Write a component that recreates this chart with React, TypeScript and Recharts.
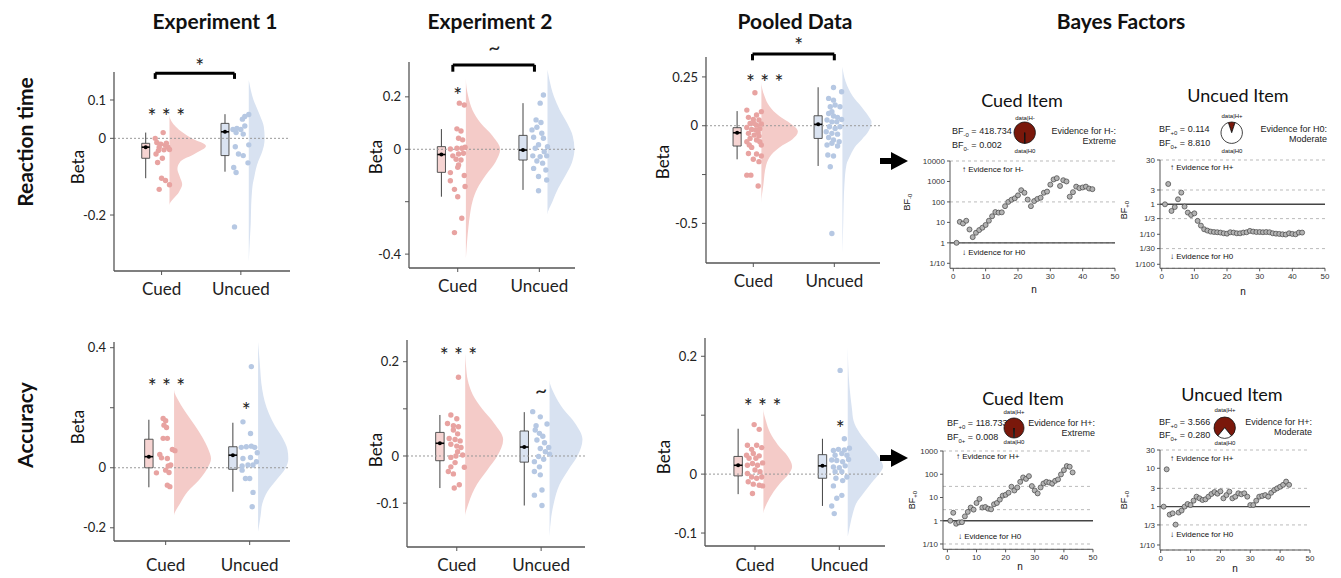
import React from 'react';
import {
  ComposedChart, Area, Scatter, XAxis, YAxis, ReferenceLine, ReferenceArea, ReferenceDot,
  CartesianGrid, PieChart, Pie, Cell,
} from 'recharts';

type Pt = [number, number];

const CATEGORIES = ['Cued', 'Uncued'];

// ---- raincloud data: [jitter, beta] per participant ----
const exp1RtCued: Pt[] = [[-0.08, 0], [0.02, 0.015], [-0.06, -0.011], [-0.01, -0.015], [0.05, -0.018], [0.08, -0.023], [0.1, -0.029], [-0.03, -0.023], [0.03, -0.03], [-0.07, -0.041], [-0.05, -0.063], [0.01, -0.052], [0, -0.104], [0.05, -0.11], [0.1, -0.121], [-0.03, -0.133], [0.06, -0.013], [-0.04, -0.032]];
const exp1RtUncued: Pt[] = [[0.05, 0.057], [0.1, 0.062], [0.02, 0.05], [-0.1, 0.023], [-0.05, 0.026], [0, 0.023], [0.05, 0.032], [-0.06, 0.015], [0.03, 0.011], [0.1, -0.017], [-0.07, -0.022], [-0.03, -0.041], [0.03, -0.045], [0.09, -0.064], [-0.09, -0.076], [-0.06, -0.089], [-0.08, -0.231]];
const exp2RtCued: Pt[] = [[0.02, 0.176], [0.08, 0.169], [-0.01, 0.078], [0.04, 0.07], [0.01, 0.042], [0.06, 0.036], [-0.09, 0.001], [-0.01, 0.004], [0.05, 0.004], [0.09, 0.008], [-0.06, -0.025], [0.01, -0.018], [0.07, -0.015], [-0.02, -0.038], [0.04, -0.041], [0.01, -0.06], [0, -0.069], [-0.09, -0.089], [0.08, -0.1], [-0.09, -0.12], [-0.04, -0.153], [0.09, -0.142], [0, -0.181], [0.05, -0.263], [-0.04, -0.318]];
const exp2RtUncued: Pt[] = [[0.05, 0.207], [0.01, 0.176], [-0.04, 0.112], [0.02, 0.102], [-0.09, 0.074], [-0.03, 0.084], [0.03, 0.061], [-0.07, 0.046], [0.05, 0.042], [0.1, 0.01], [-0.01, 0.017], [-0.05, 0.004], [0.06, -0.009], [-0.08, -0.025], [0.01, -0.028], [0.09, -0.025], [-0.03, -0.045], [0.04, -0.053], [-0.07, -0.073], [0.08, -0.079], [-0.01, -0.104], [0.09, -0.117], [-0.01, -0.158]];
const poolRtCued: Pt[] = [[0.02, 0.169], [-0.08, 0.08], [0.1, 0.072], [0.04, 0.055], [-0.06, 0.043], [0, 0.032], [0.07, 0.029], [-0.04, 0.012], [0.04, 0.003], [0.1, 0.009], [0.01, 0.012], [-0.08, -0.009], [-0.02, -0.019], [0.03, -0.022], [0.08, -0.015], [-0.06, -0.039], [0.01, -0.048], [0.06, -0.036], [0.07, -0.053], [-0.04, -0.065], [0.04, -0.073], [-0.08, -0.082], [0.08, -0.082], [-0.05, -0.099], [0.1, -0.099], [-0.02, -0.111], [-0.06, -0.142], [0.04, -0.145], [0.1, -0.155], [0, -0.172], [0.07, -0.184], [-0.08, -0.253], [-0.03, -0.253], [0.06, -0.309]];
const poolRtUncued: Pt[] = [[-0.01, 0.196], [0.09, 0.174], [-0.07, 0.14], [-0.01, 0.131], [-0.05, 0.097], [0.01, 0.106], [0.07, 0.097], [-0.03, 0.072], [-0.07, 0.063], [-0.01, 0.05], [0.04, 0.043], [-0.09, 0.029], [-0.03, 0.02], [0.03, 0.02], [0.09, 0.032], [-0.06, -0.005], [0.01, -0.014], [0.07, -0.005], [-0.1, -0.031], [-0.03, -0.039], [0.04, -0.043], [-0.07, -0.06], [-0.01, -0.073], [0.06, -0.082], [-0.09, -0.099], [-0.03, -0.09], [0.04, -0.104], [-0.08, -0.15], [-0.01, -0.155], [-0.05, -0.21], [-0.03, -0.552]];
const exp1AccCued: Pt[] = [[-0.03, 0.164], [0, 0.157], [-0.02, 0.142], [0.01, 0.134], [-0.03, 0.098], [0.02, 0.098], [0.08, 0.061], [0.11, 0.057], [-0.07, 0.044], [-0.05, 0.033], [0.02, 0.031], [0.06, 0.009], [0.03, 0.006], [-0.11, -0.017], [0, -0.008], [0.04, -0.016], [0.02, -0.058], [0.05, -0.063]];
const exp1AccUncued: Pt[] = [[0.02, 0.337], [-0.08, 0.153], [0.01, 0.114], [-0.1, 0.068], [-0.04, 0.07], [0.02, 0.072], [0.06, 0.068], [0.01, 0.034], [0.08, 0.02], [0.09, 0.05], [-0.08, 0.031], [-0.09, 0.006], [-0.02, 0.009], [0.04, 0.009], [-0.09, -0.008], [-0.05, -0.036], [0, -0.036], [0.04, -0.082], [0.03, -0.13]];
const exp2AccCued: Pt[] = [[0.02, 0.167], [-0.07, 0.087], [0, 0.079], [-0.11, 0.069], [-0.04, 0.064], [0.02, 0.062], [-0.04, 0.055], [0.01, 0.047], [-0.09, 0.037], [-0.02, 0.035], [0.04, 0.032], [-0.07, 0.025], [0, 0.021], [0.05, 0.018], [0.01, 0.009], [0.07, 0.002], [-0.01, 0], [-0.07, -0.003], [0.09, -0.024], [-0.02, -0.014], [-0.07, -0.023], [-0.1, -0.033], [-0.04, -0.038], [0.03, -0.061], [-0.03, -0.068]];
const exp2AccUncued: Pt[] = [[-0.1, 0.094], [-0.01, 0.083], [-0.06, 0.064], [0.07, 0.068], [-0.07, 0.055], [-0.02, 0.048], [0.02, 0.042], [-0.05, 0.034], [0.04, 0.028], [0.09, 0.018], [-0.01, 0.016], [0.05, 0.009], [0.1, 0.004], [-0.03, -0.001], [0.03, -0.007], [-0.08, -0.012], [-0.02, -0.023], [-0.08, -0.033], [-0.01, -0.04], [0.01, -0.072], [-0.08, -0.083], [0.01, -0.105]];
const poolAccCued: Pt[] = [[-0.01, 0.084], [0.05, 0.076], [-0.09, 0.049], [0.02, 0.049], [-0.04, 0.042], [0.08, 0.045], [-0.1, 0.032], [-0.02, 0.035], [0.05, 0.031], [-0.07, 0.027], [0.01, 0.027], [-0.09, 0.015], [-0.03, 0.018], [0.03, 0.015], [0.09, 0.019], [0, 0.007], [0.06, 0.004], [-0.09, 0.001], [-0.04, -0.005], [0.02, -0.007], [0.08, -0.005], [-0.08, -0.013], [-0.02, -0.017], [0.05, -0.019], [0.09, -0.02], [-0.03, -0.033]];
const poolAccUncued: Pt[] = [[0.01, 0.176], [0.06, 0.06], [-0.07, 0.04], [-0.01, 0.042], [0.06, 0.041], [0.12, 0.044], [-0.05, 0.032], [0.03, 0.035], [0.09, 0.032], [-0.09, 0.024], [-0.03, 0.023], [0.04, 0.021], [0.11, 0.025], [-0.07, 0.012], [0, 0.011], [0.07, 0.014], [-0.05, 0.004], [0.03, 0.004], [0.09, -0.005], [-0.04, -0.007], [0.04, -0.011], [-0.07, -0.02], [0.03, -0.036], [-0.03, -0.041], [-0.09, -0.054], [-0.06, -0.067]];

// ---- box stats: [lower whisker, q1, centre, q3, upper whisker] ----
const exp1RtBoxCued = [-0.104, -0.052, -0.023, -0.013, 0.015];
const exp1RtBoxUncued = [-0.087, -0.045, 0.017, 0.039, 0.063];
const exp2RtBoxCued = [-0.181, -0.088, -0.02, 0.01, 0.077];
const exp2RtBoxUncued = [-0.155, -0.041, -0.003, 0.053, 0.176];
const poolRtBoxCued = [-0.172, -0.104, -0.036, -0.01, 0.075];
const poolRtBoxUncued = [-0.206, -0.065, 0.007, 0.051, 0.197];
const exp1AccBoxCued = [-0.065, 0.0, 0.037, 0.095, 0.16];
const exp1AccBoxUncued = [-0.08, -0.005, 0.042, 0.07, 0.15];
const exp2AccBoxCued = [-0.068, -0.01, 0.027, 0.05, 0.087];
const exp2AccBoxUncued = [-0.105, -0.013, 0.019, 0.053, 0.093];
const poolAccBoxCued = [-0.034, -0.003, 0.015, 0.03, 0.077];
const poolAccBoxUncued = [-0.054, -0.007, 0.014, 0.033, 0.06];

// ---- half-violin outlines: beta levels and density widths ----
const exp1RtViolinY = [0.152, 0.1, 0.06, 0.03, 0, -0.02, -0.04, -0.06, -0.08, -0.1, -0.12, -0.14, -0.175, -0.22, -0.27, -0.322];
const exp1RtViolinCued = [0, 0, 0, 0.08, 0.28, 0.46, 0.32, 0.14, 0.1, 0.13, 0.16, 0.12, 0, 0, 0, 0];
const exp1RtViolinUncued = [0, 0.06, 0.14, 0.19, 0.2, 0.19, 0.16, 0.12, 0.09, 0.07, 0.05, 0.04, 0.03, 0.025, 0.012, 0];
const exp2RtViolinY = [0.303, 0.27, 0.2, 0.15, 0.1, 0.05, 0, -0.05, -0.1, -0.15, -0.2, -0.25, -0.3, -0.35, -0.416];
const exp2RtViolinCued = [0, 0, 0.03, 0.08, 0.18, 0.33, 0.42, 0.36, 0.24, 0.14, 0.08, 0.05, 0.03, 0.015, 0];
const exp2RtViolinUncued = [0, 0.02, 0.08, 0.15, 0.24, 0.31, 0.33, 0.3, 0.22, 0.13, 0.06, 0, 0, 0, 0];
const poolRtViolinY = [0.302, 0.225, 0.15, 0.1, 0.05, 0.02, -0.03, -0.07, -0.1, -0.15, -0.2, -0.3, -0.398, -0.5, -0.654];
const poolRtViolinCued = [0, 0, 0.04, 0.1, 0.22, 0.33, 0.45, 0.38, 0.26, 0.12, 0.06, 0.025, 0, 0, 0];
const poolRtViolinUncued = [0, 0.04, 0.13, 0.23, 0.32, 0.36, 0.32, 0.24, 0.17, 0.1, 0.05, 0.025, 0.015, 0.01, 0];
const exp1AccViolinY = [0.42, 0.35, 0.26, 0.22, 0.18, 0.14, 0.1, 0.06, 0.03, 0, -0.04, -0.08, -0.12, -0.16, -0.213];
const exp1AccViolinCued = [0, 0, 0, 0.06, 0.15, 0.25, 0.34, 0.41, 0.44, 0.4, 0.3, 0.16, 0.07, 0, 0];
const exp1AccViolinUncued = [0, 0.02, 0.05, 0.08, 0.13, 0.2, 0.29, 0.35, 0.36, 0.33, 0.22, 0.11, 0.05, 0.03, 0];
const exp2AccViolinY = [0.218, 0.19, 0.161, 0.13, 0.1, 0.07, 0.035, 0, -0.03, -0.06, -0.1, -0.129, -0.171];
const exp2AccViolinCued = [0, 0.01, 0.03, 0.09, 0.2, 0.34, 0.45, 0.38, 0.26, 0.14, 0.04, 0, 0];
const exp2AccViolinUncued = [0, 0, 0, 0.06, 0.16, 0.3, 0.39, 0.33, 0.22, 0.12, 0.05, 0.02, 0];
const poolAccViolinY = [0.216, 0.15, 0.111, 0.09, 0.07, 0.05, 0.03, 0.013, 0, -0.015, -0.03, -0.05, -0.067, -0.085, -0.106];
const poolAccViolinCued = [0, 0, 0, 0.03, 0.08, 0.17, 0.29, 0.34, 0.3, 0.2, 0.12, 0.04, 0, 0, 0];
const poolAccViolinUncued = [0, 0.02, 0.05, 0.07, 0.14, 0.25, 0.36, 0.42, 0.37, 0.28, 0.2, 0.1, 0.06, 0.03, 0];

// ---- sequential Bayes factors, n = 1..43 ----
const bfCuedRt = [1, 10.6, 8.8, 12, 4.5, 1.9, 3.1, 4.2, 5.5, 7.5, 12, 20, 32, 30, 31, 62, 100, 128, 150, 210, 375, 280, 130, 62, 110, 140, 160, 280, 320, 700, 1250, 1450, 600, 1150, 1000, 180, 300, 560, 470, 510, 560, 450, 420];
const bfUncuedRt = [1, 4.76, 0.6, 0.81, 1.47, 2.45, 0.84, 0.53, 0.44, 0.5, 0.28, 0.195, 0.147, 0.133, 0.123, 0.119, 0.117, 0.114, 0.108, 0.105, 0.117, 0.114, 0.108, 0.108, 0.114, 0.117, 0.13, 0.123, 0.119, 0.119, 0.117, 0.119, 0.117, 0.108, 0.105, 0.103, 0.1, 0.098, 0.108, 0.103, 0.1, 0.114, 0.114];
const bfCuedAcc = [1, 2.2, 0.74, 0.85, 0.87, 1.54, 2.4, 3.7, 3.0, 5.8, 8.7, 3.7, 3.9, 3.3, 3.1, 5.1, 5.8, 8.1, 12, 13, 16, 29, 20, 27, 47, 73, 63, 83, 31, 20, 15, 27, 40, 47, 44, 40, 52, 60, 98, 150, 225, 210, 120];
const bfUncuedAcc = [1, 9.4, 0.62, 0.67, 0.34, 0.7, 0.79, 1.0, 1.17, 1.1, 1.43, 1.82, 1.65, 1.49, 1.55, 1.82, 2.14, 2.4, 2.18, 2.5, 1.65, 2.0, 2.46, 1.65, 1.82, 2.23, 2.1, 2.23, 1.82, 1.1, 1.1, 1.43, 1.82, 1.9, 2.0, 1.82, 2.3, 2.7, 3.0, 3.3, 3.7, 4.5, 3.7];

const bfFinal = ['418.734', '0.114', '118.733', '3.566'];
const bfFinalInv = ['0.002', '8.810', '0.008', '0.280'];

const PINK_DOT = '#e8a3a1';
const PINK_VIOLIN = '#f4cbc8';
const PINK_BOX = '#f6d4d2';
const BLUE_DOT = '#b6c8e3';
const BLUE_VIOLIN = '#d8e2f1';
const BLUE_BOX = '#dae3f1';
const RED = '#7a180b';

const SANS = 'Lato, "Open Sans", sans-serif';
const ARIAL = '"Liberation Sans", Arial, sans-serif';

const YW = 50;
const MT = 50;
const MR = 12;
const XH = 44;
const VOFF = 0.1;
const BOXC = -0.2;
const BOXH = 0.05;

const dot = (fill: string, r: number) => (p: any) => <circle cx={p.cx} cy={p.cy} r={r} fill={fill} />;

function boxPlot(s: number[], c: number, fill: string, k: string) {
  const x = c + BOXC;
  return [
    <ReferenceLine key={k + 'w1'} segment={[{ x, y: s[0] }, { x, y: s[1] }]} stroke="#444" strokeWidth={1} ifOverflow="visible" />,
    <ReferenceLine key={k + 'w2'} segment={[{ x, y: s[3] }, { x, y: s[4] }]} stroke="#444" strokeWidth={1} ifOverflow="visible" />,
    <ReferenceArea key={k + 'b'} x1={x - BOXH} x2={x + BOXH} y1={s[1]} y2={s[3]} fill={fill} fillOpacity={1} stroke="#555" strokeWidth={1} ifOverflow="visible" />,
    <ReferenceLine key={k + 'm'} segment={[{ x: x - BOXH, y: s[2] }, { x: x + BOXH, y: s[2] }]} stroke="#000" strokeWidth={1.6} ifOverflow="visible" />,
    <ReferenceDot key={k + 'd'} x={x} y={s[2]} r={2} fill="#000" stroke="none" ifOverflow="visible" />,
  ];
}

function RainPanel({ cfg }: { cfg: any }) {
  const { l, t, r, b, xDomain, yDomain, ticks, hidden, cued, uncued, boxC, boxU, vy, vc, vu, marks, bracket, gap } = cfg;
  const table = vy.map((y: number, i: number) => ({ y, cued: 1 + VOFF + vc[i], uncued: 2 + VOFF + vu[i] }));
  const W = YW + (r - l) + MR;
  const H = MT + (b - t) + XH;
  const pts = (arr: Pt[], c: number) => arr.map(([j, v]) => ({ x: c + j, y: v }));
  return (
    <div style={{ position: 'absolute', left: l - YW, top: t - MT }}>
      <ComposedChart layout="vertical" width={W} height={H} data={table} margin={{ top: MT, right: MR, bottom: 0, left: 0 }}>
        <XAxis
          type="number" dataKey="x" domain={xDomain} allowDataOverflow ticks={[1, 2]}
          tickFormatter={(v: number) => CATEGORIES[v - 1]} height={XH} tickSize={4} tickMargin={gap}
          axisLine={{ stroke: '#555', strokeWidth: 1.3 }} tickLine={{ stroke: '#555' }}
          tick={{ fontSize: 17, fill: '#222', fontFamily: SANS }}
        />
        <YAxis
          type="number" dataKey="y" domain={yDomain} allowDataOverflow reversed ticks={ticks}
          tickFormatter={(v: number) => (hidden.includes(v) ? '' : String(v))} width={YW} tickSize={4} tickMargin={4}
          axisLine={{ stroke: '#555', strokeWidth: 1.3 }} tickLine={{ stroke: '#555' }}
          tick={{ fontSize: 13, fill: '#222', fontFamily: SANS }}
        />
        <ReferenceLine y={0} stroke="#999" strokeDasharray="2 2" strokeWidth={1} />
        <Area dataKey="cued" baseValue={1 + VOFF} type="monotone" fill={PINK_VIOLIN} fillOpacity={1} stroke="none" isAnimationActive={false} />
        <Area dataKey="uncued" baseValue={2 + VOFF} type="monotone" fill={BLUE_VIOLIN} fillOpacity={1} stroke="none" isAnimationActive={false} />
        <Scatter data={pts(cued, 1)} shape={dot(PINK_DOT, 2.7)} isAnimationActive={false} />
        <Scatter data={pts(uncued, 2)} shape={dot(BLUE_DOT, 2.7)} isAnimationActive={false} />
        {boxPlot(boxC, 1, PINK_BOX, 'c')}
        {boxPlot(boxU, 2, BLUE_BOX, 'u')}
        {bracket && [
          <ReferenceLine key="br" segment={[{ x: bracket.x1, y: bracket.y }, { x: bracket.x2, y: bracket.y }]} stroke="#000" strokeWidth={3} ifOverflow="visible" />,
          <ReferenceLine key="bl1" segment={[{ x: bracket.x1, y: bracket.y }, { x: bracket.x1, y: bracket.leg }]} stroke="#000" strokeWidth={3} ifOverflow="visible" />,
          <ReferenceLine key="bl2" segment={[{ x: bracket.x2, y: bracket.y }, { x: bracket.x2, y: bracket.leg }]} stroke="#000" strokeWidth={3} ifOverflow="visible" />,
        ]}
        {marks.map((m: any, i: number) => (
          <ReferenceDot
            key={'s' + i} x={m.x} y={m.y} r={1} fill="none" stroke="none" ifOverflow="visible"
            label={{ value: m.text, position: 'center', fontSize: 21, fill: '#222', fontFamily: SANS }}
          />
        ))}
      </ComposedChart>
    </div>
  );
}

const rainPanels = [
  { l: 114, t: 72, r: 290, b: 271, gap: 8, xDomain: [0.4, 2.62], yDomain: [-0.346, 0.173], ticks: [-0.2, 0, 0.1], hidden: [],
    cued: exp1RtCued, uncued: exp1RtUncued, boxC: exp1RtBoxCued, boxU: exp1RtBoxUncued,
    vy: exp1RtViolinY, vc: exp1RtViolinCued, vu: exp1RtViolinUncued,
    bracket: { x1: 0.92, x2: 1.92, y: 0.17, leg: 0.155 },
    marks: [{ x: 1.06, y: 0.058, text: '* * *' }, { x: 1.48, y: 0.188, text: '*' }] },
  { l: 409, t: 62, r: 575, b: 268, gap: 8, xDomain: [0.403, 2.437], yDomain: [-0.453, 0.333], ticks: [-0.4, -0.2, 0, 0.2], hidden: [-0.2],
    cued: exp2RtCued, uncued: exp2RtUncued, boxC: exp2RtBoxCued, boxU: exp2RtBoxUncued,
    vy: exp2RtViolinY, vc: exp2RtViolinCued, vu: exp2RtViolinUncued,
    bracket: { x1: 0.94, x2: 1.94, y: 0.322, leg: 0.296 },
    marks: [{ x: 1.0, y: 0.205, text: '*' }, { x: 1.45, y: 0.39, text: '~' }] },
  { l: 706, t: 57, r: 880, b: 263, gap: 8, xDomain: [0.416, 2.564], yDomain: [-0.703, 0.352], ticks: [-0.5, -0.25, 0, 0.25], hidden: [-0.25],
    cued: poolRtCued, uncued: poolRtUncued, boxC: poolRtBoxCued, boxU: poolRtBoxUncued,
    vy: poolRtViolinY, vc: poolRtViolinCued, vu: poolRtViolinUncued,
    bracket: { x1: 0.99, x2: 2.0, y: 0.367, leg: 0.335 },
    marks: [{ x: 1.14, y: 0.22, text: '* * *' }, { x: 1.56, y: 0.41, text: '*' }] },
  { l: 114, t: 342, r: 290, b: 541, gap: 14, xDomain: [0.385, 2.48], yDomain: [-0.244, 0.419], ticks: [-0.2, 0, 0.2, 0.4], hidden: [0.2],
    cued: exp1AccCued, uncued: exp1AccUncued, boxC: exp1AccBoxCued, boxU: exp1AccBoxUncued,
    vy: exp1AccViolinY, vc: exp1AccViolinCued, vu: exp1AccViolinUncued, bracket: null,
    marks: [{ x: 1.01, y: 0.27, text: '* * *' }, { x: 1.96, y: 0.19, text: '*' }] },
  { l: 407, t: 340, r: 585, b: 547, gap: 8, xDomain: [0.41, 2.52], yDomain: [-0.193, 0.246], ticks: [-0.1, 0, 0.1, 0.2], hidden: [0.1],
    cued: exp2AccCued, uncued: exp2AccUncued, boxC: exp2AccBoxCued, boxU: exp2AccBoxUncued,
    vy: exp2AccViolinY, vc: exp2AccViolinCued, vu: exp2AccViolinUncued, bracket: null,
    marks: [{ x: 1.02, y: 0.213, text: '* * *' }, { x: 2.0, y: 0.138, text: '~' }] },
  { l: 705, t: 338, r: 885, b: 546, gap: 9, xDomain: [0.407, 2.542], yDomain: [-0.122, 0.231], ticks: [-0.1, 0, 0.1, 0.2], hidden: [0.1],
    cued: poolAccCued, uncued: poolAccUncued, boxC: poolAccBoxCued, boxU: poolAccBoxUncued,
    vy: poolAccViolinY, vc: poolAccViolinCued, vu: poolAccViolinUncued, bracket: null,
    marks: [{ x: 1.09, y: 0.115, text: '* * *' }, { x: 2.01, y: 0.077, text: '*' }] },
];

const fmtBf = (v: number) => (v >= 1 ? String(Math.round(v)) : '1/' + Math.round(1 / v));

function BfPlot({ cfg }: { cfg: any }) {
  const { l, t, r, b, x0, yDomain, ticks, values } = cfg;
  const BYW = 34;
  const BXH = 22;
  const data = values.map((v: number, i: number) => ({ n: i + 1, bf: v }));
  return (
    <div style={{ position: 'absolute', left: l - BYW, top: t - 4 }}>
      <ComposedChart width={BYW + (r - l) + 6} height={4 + (b - t) + BXH} data={data} margin={{ top: 4, right: 6, bottom: 0, left: 0 }}>
        <CartesianGrid horizontal vertical={false} stroke="#bbb" strokeDasharray="3 3" />
        <XAxis
          type="number" dataKey="n" domain={[x0, 50]} allowDataOverflow ticks={[0, 10, 20, 30, 40, 50]}
          height={BXH} tickSize={3} tickMargin={2} axisLine={{ stroke: '#555' }} tickLine={{ stroke: '#555' }}
          tick={{ fontSize: 8, fill: '#333', fontFamily: ARIAL }}
        />
        <YAxis
          type="number" dataKey="bf" scale="log" domain={yDomain} allowDataOverflow ticks={ticks}
          tickFormatter={fmtBf} width={BYW} tickSize={3} tickMargin={2} axisLine={{ stroke: '#555' }} tickLine={{ stroke: '#555' }}
          tick={{ fontSize: 8, fill: '#333', fontFamily: ARIAL }}
        />
        <ReferenceLine y={1} stroke="#444" strokeWidth={1.4} />
        <Scatter
          data={data} isAnimationActive={false}
          shape={(p: any) => <circle cx={p.cx} cy={p.cy} r={2.5} fill="#b3b3b3" stroke="#444" strokeWidth={0.7} />}
        />
      </ComposedChart>
    </div>
  );
}

function BfPie({ bf, cx, cy, r }: { bf: number; cx: number; cy: number; r: number }) {
  const a = (360 * bf) / (1 + bf);
  const start = 90 + a / 2;
  const s = 2 * r + 4;
  return (
    <div style={{ position: 'absolute', left: cx - s / 2, top: cy - s / 2 }}>
      <PieChart width={s} height={s} margin={{ top: 0, right: 0, bottom: 0, left: 0 }}>
        <Pie
          data={[{ v: bf }, { v: 1 }]} dataKey="v" cx={s / 2} cy={s / 2} outerRadius={r} innerRadius={0}
          startAngle={start} endAngle={start - 360} stroke="#111" strokeWidth={0.8} isAnimationActive={false}
        >
          <Cell fill={RED} />
          <Cell fill="#fff" />
        </Pie>
      </PieChart>
    </div>
  );
}

const bfPanels = [
  { l: 950, t: 161, r: 1115, b: 268.3, x0: -1.02, yDomain: [0.057, 10000], ticks: [0.1, 1, 10, 100, 1000, 10000], values: bfCuedRt,
    title: 'Cued Item', tx: 1022, ty: 100, sub: ['-0', '0-'], h: 'H-', evid: ['Evidence for H-:', 'Extreme'],
    txtL: 952, txtT: 126, evR: 1116, pie: [1025, 133, 10.7], pieLab: [118, 151], yl: [908, 202], nl: [1034, 290],
    up: [962, 170], down: [962, 253] },
  { l: 1160, t: 160, r: 1325, b: 268.3, x0: -0.52, yDomain: [0.00735, 30], ticks: [0.01, 1 / 30, 0.1, 1 / 3, 1, 3, 10, 30], values: bfUncuedRt,
    title: 'Uncued Item', tx: 1238, ty: 95, sub: ['+0', '0+'], h: 'H+', evid: ['Evidence for H0:', 'Moderate'],
    txtL: 1159, txtT: 124, evR: 1327, pie: [1232, 133, 10.7], pieLab: [116, 151], yl: [1125, 210], nl: [1243, 292],
    up: [1170, 168], down: [1170, 257] },
  { l: 943.3, t: 451, r: 1093.3, b: 549.3, x0: -1.51, yDomain: [0.0591, 1000], ticks: [0.1, 1 / 3, 1, 3, 10, 30, 100, 300, 1000], values: bfCuedAcc,
    title: 'Cued Item', tx: 1023, ty: 398, sub: ['+0', '0+'], h: 'H+', evid: ['Evidence for H+:', 'Extreme'],
    txtL: 947, txtT: 418, evR: 1095, pie: [1014, 428, 10], pieLab: [412, 442], yl: [913, 500], nl: [1020, 567],
    up: [956, 457], down: [958, 537] },
  { l: 1160, t: 450, r: 1310, b: 550, x0: -0.23, yDomain: [0.074, 30], ticks: [0.1, 1 / 3, 1, 3, 10, 30], values: bfUncuedAcc,
    title: 'Uncued Item', tx: 1232, ty: 394, sub: ['+0', '0+'], h: 'H+', evid: ['Evidence for H+:', 'Moderate'],
    txtL: 1159, txtT: 416.5, evR: 1312, pie: [1225, 428, 10.7], pieLab: [410, 443], yl: [1125, 500], nl: [1235, 569],
    up: [1170, 459], down: [1170, 535] },
];

const Txt = ({ x, y, size, children, weight, rotate, font, align }: any) => (
  <div
    style={{
      position: 'absolute', left: x, top: y, whiteSpace: 'nowrap', lineHeight: 1, fontSize: size,
      fontWeight: weight || 'normal', fontFamily: font || SANS, color: '#111',
      transform: `translate(${align === 'right' ? '-100%' : align === 'left' ? '0' : '-50%'}, -50%) rotate(${rotate || 0}deg)`,
    }}
  >
    {children}
  </div>
);

const Arrow = ({ x, y }: { x: number; y: number }) => (
  <svg style={{ position: 'absolute', left: x, top: y - 10 }} width={28} height={20}>
    <rect x={0} y={7} width={12} height={6} fill="#000" />
    <polygon points="11,1 28,10 11,19" fill="#000" />
  </svg>
);

export default function App() {
  return (
    <div style={{ position: 'absolute', left: 0, top: 0, width: 1341, height: 578, background: '#fff', overflow: 'hidden' }}>
      <Txt x={215} y={20} size={21} weight="bold">Experiment 1</Txt>
      <Txt x={490} y={20} size={21} weight="bold">Experiment 2</Txt>
      <Txt x={795} y={20} size={21} weight="bold">Pooled Data</Txt>
      <Txt x={1121} y={20} size={21} weight="bold">Bayes Factors</Txt>
      <Txt x={24} y={142} size={21} weight="bold" rotate={-90}>Reaction time</Txt>
      <Txt x={24} y={425} size={21} weight="bold" rotate={-90}>Accuracy</Txt>
      {[[77, 167], [375, 157], [662, 162], [77, 427], [375, 450], [663, 457]].map(([x, y], i) => (
        <Txt key={'beta' + i} x={x} y={y} size={17} rotate={-90}>Beta</Txt>
      ))}
      {rainPanels.map((p, i) => <RainPanel key={'rp' + i} cfg={p} />)}
      <Arrow x={880} y={161} />
      <Arrow x={880} y={458} />
      {bfPanels.map((p, i) => (
        <React.Fragment key={'bf' + i}>
          <Txt x={p.tx} y={p.ty} size={18}>{p.title}</Txt>
          <div style={{ position: 'absolute', left: p.txtL, top: p.txtT, fontFamily: ARIAL, fontSize: 9, lineHeight: '10px', color: '#222' }}>
            <div>BF<sub style={{ fontSize: 6 }}>{p.sub[0]}</sub> = {bfFinal[i]}</div>
            <div>BF<sub style={{ fontSize: 6 }}>{p.sub[1]}</sub> = {bfFinalInv[i]}</div>
          </div>
          <div style={{ position: 'absolute', left: p.evR, top: p.txtT, transform: 'translateX(-100%)', textAlign: 'right', fontFamily: ARIAL, fontSize: 9, lineHeight: '10px', color: '#222', whiteSpace: 'nowrap' }}>
            <div>{p.evid[0]}</div>
            <div>{p.evid[1]}</div>
          </div>
          <BfPie bf={Number(bfFinal[i])} cx={p.pie[0]} cy={p.pie[1]} r={p.pie[2]} />
          <Txt x={p.pie[0]} y={p.pieLab[0]} size={6} font={ARIAL}>data|{p.h}</Txt>
          <Txt x={p.pie[0]} y={p.pieLab[1]} size={6} font={ARIAL}>data|H0</Txt>
          <BfPlot cfg={p} />
          <Txt x={p.up[0]} y={p.up[1]} size={8} font={ARIAL} align="left">↑ Evidence for {p.h}</Txt>
          <Txt x={p.down[0]} y={p.down[1]} size={8} font={ARIAL} align="left">↓ Evidence for H0</Txt>
          <Txt x={p.yl[0]} y={p.yl[1]} size={9} font={ARIAL} rotate={-90}>BF<sub style={{ fontSize: 6 }}>{p.sub[0]}</sub></Txt>
          <Txt x={p.nl[0]} y={p.nl[1]} size={10} font={ARIAL}>n</Txt>
        </React.Fragment>
      ))}
    </div>
  );
}
